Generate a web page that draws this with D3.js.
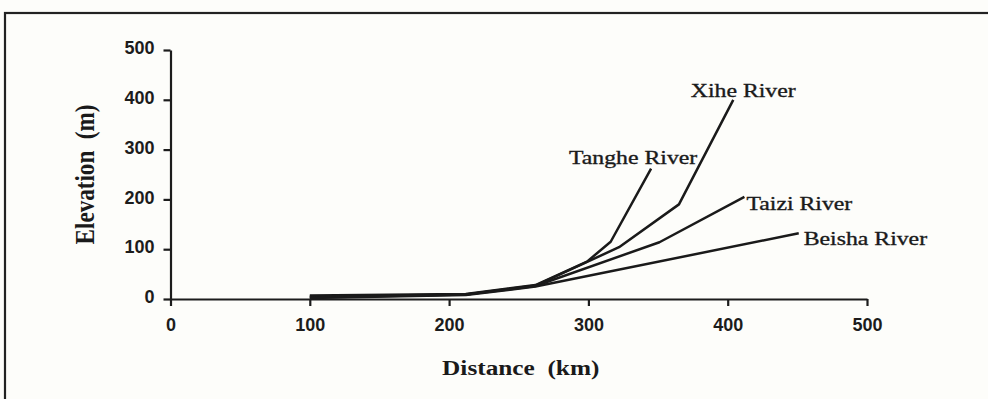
<!DOCTYPE html>
<html>
<head>
<meta charset="utf-8">
<script src="https://cdn.jsdelivr.net/npm/d3@7"></script>
<style>
  body { margin: 0; background: #fdfdfa; }
  svg { display: block; }
</style>
</head>
<body>
<svg id="chart"></svg>
<script>
// data
var xTicks = [0, 100, 200, 300, 400, 500];
var yTicks = [0, 100, 200, 300, 400, 500];

var rivers = ["Tanghe River", "Xihe River", "Taizi River", "Beisha River"];
var tangheDist = [100, 212, 262, 299, 316, 345];
var tangheElev = [7, 10, 28, 75, 115, 262];
var xiheDist = [100, 212, 262, 322, 365, 404];
var xiheElev = [5, 9, 27, 104, 190, 400];
var taiziDist = [100, 212, 262, 351, 412];
var taiziElev = [3, 9, 26, 114, 205];
var beishaDist = [100, 212, 262, 451];
var beishaElev = [2, 8, 25, 132];

// basic settings
var width = 988, height = 399;
var margin = {left: 170.5, top: 50, right: 121, bottom: 100};

var svg = d3.select("#chart")
    .attr("width", width)
    .attr("height", height);

// scanned frame
svg.append("rect")
    .attr("x", 5).attr("y", 13)
    .attr("width", 1000).attr("height", 420)
    .attr("fill", "none")
    .attr("stroke", "#222")
    .attr("stroke-width", 2.2);

var x = d3.scaleLinear().domain([0, 500]).range([margin.left, width - margin.right]);
var y = d3.scaleLinear().domain([0, 500]).range([height - margin.bottom, margin.top]);

var xAxis = d3.axisBottom(x).tickValues(xTicks).tickSize(7).tickSizeOuter(0).tickPadding(12);
var yAxis = d3.axisLeft(y).tickValues(yTicks).tickSize(7).tickSizeOuter(0).tickPadding(9);

var gx = svg.append("g")
    .attr("transform", "translate(0," + y(0) + ")")
    .call(xAxis);
var gy = svg.append("g")
    .attr("transform", "translate(" + x(0) + ",0)")
    .call(yAxis);

[gx, gy].forEach(function(g) {
    g.selectAll("path, line")
        .attr("stroke", "#1c1c1c")
        .attr("stroke-width", 2.2);
    g.selectAll("text")
        .attr("fill", "#1c1c1c")
        .style("font-family", "'Liberation Sans', Arial, sans-serif")
        .style("font-weight", "bold")
        .style("font-size", "18px");
});
gy.selectAll("text").attr("dy", "0.2em");

// river profiles
var series = [
    {name: rivers[0], dist: tangheDist, elev: tangheElev, anchor: "middle", dx: -18, dy: -5},
    {name: rivers[1], dist: xiheDist, elev: xiheElev, anchor: "middle", dx: 10, dy: -3},
    {name: rivers[2], dist: taiziDist, elev: taiziElev, anchor: "start", dx: 2, dy: 13},
    {name: rivers[3], dist: beishaDist, elev: beishaElev, anchor: "start", dx: 5, dy: 12}
];

var line = d3.line()
    .x(function(d) { return x(d[0]); })
    .y(function(d) { return y(d[1]); });

series.forEach(function(s) {
    var pts = d3.zip(s.dist, s.elev);
    svg.append("path")
        .attr("d", line(pts))
        .attr("fill", "none")
        .attr("stroke", "#1a1a1a")
        .attr("stroke-width", 2.5)
        .attr("stroke-linejoin", "round");

    var last = pts[pts.length - 1];
    svg.append("g")
        .attr("transform", "translate(" + (x(last[0]) + s.dx) + "," + (y(last[1]) + s.dy) + ") scale(1.25,1)")
        .append("text")
        .attr("text-anchor", s.anchor)
        .attr("fill", "#1a1a1a")
        .attr("stroke", "#1a1a1a")
        .attr("stroke-width", 0.35)
        .style("font-family", "'Liberation Serif', 'Times New Roman', serif")
        .style("font-size", "19px")
        .text(s.name);
});

// axis titles
svg.append("g")
    .attr("transform", "translate(" + (x(250) + 2) + ",375) scale(1.15,1)")
    .append("text")
    .attr("text-anchor", "middle")
    .attr("fill", "#1a1a1a")
    .style("font-family", "'Liberation Serif', 'Times New Roman', serif")
    .style("font-weight", "bold")
    .style("font-size", "22px")
    .style("white-space", "pre")
    .text("Distance  (km)");

svg.append("g")
    .attr("transform", "translate(94," + y(250) + ") rotate(-90) scale(1.05,1.2)")
    .append("text")
    .attr("text-anchor", "middle")
    .attr("fill", "#1a1a1a")
    .style("font-family", "'Liberation Serif', 'Times New Roman', serif")
    .style("font-weight", "bold")
    .style("font-size", "22px")
    .style("white-space", "pre")
    .text("Elevation  (m)");
</script>
</body>
</html>
